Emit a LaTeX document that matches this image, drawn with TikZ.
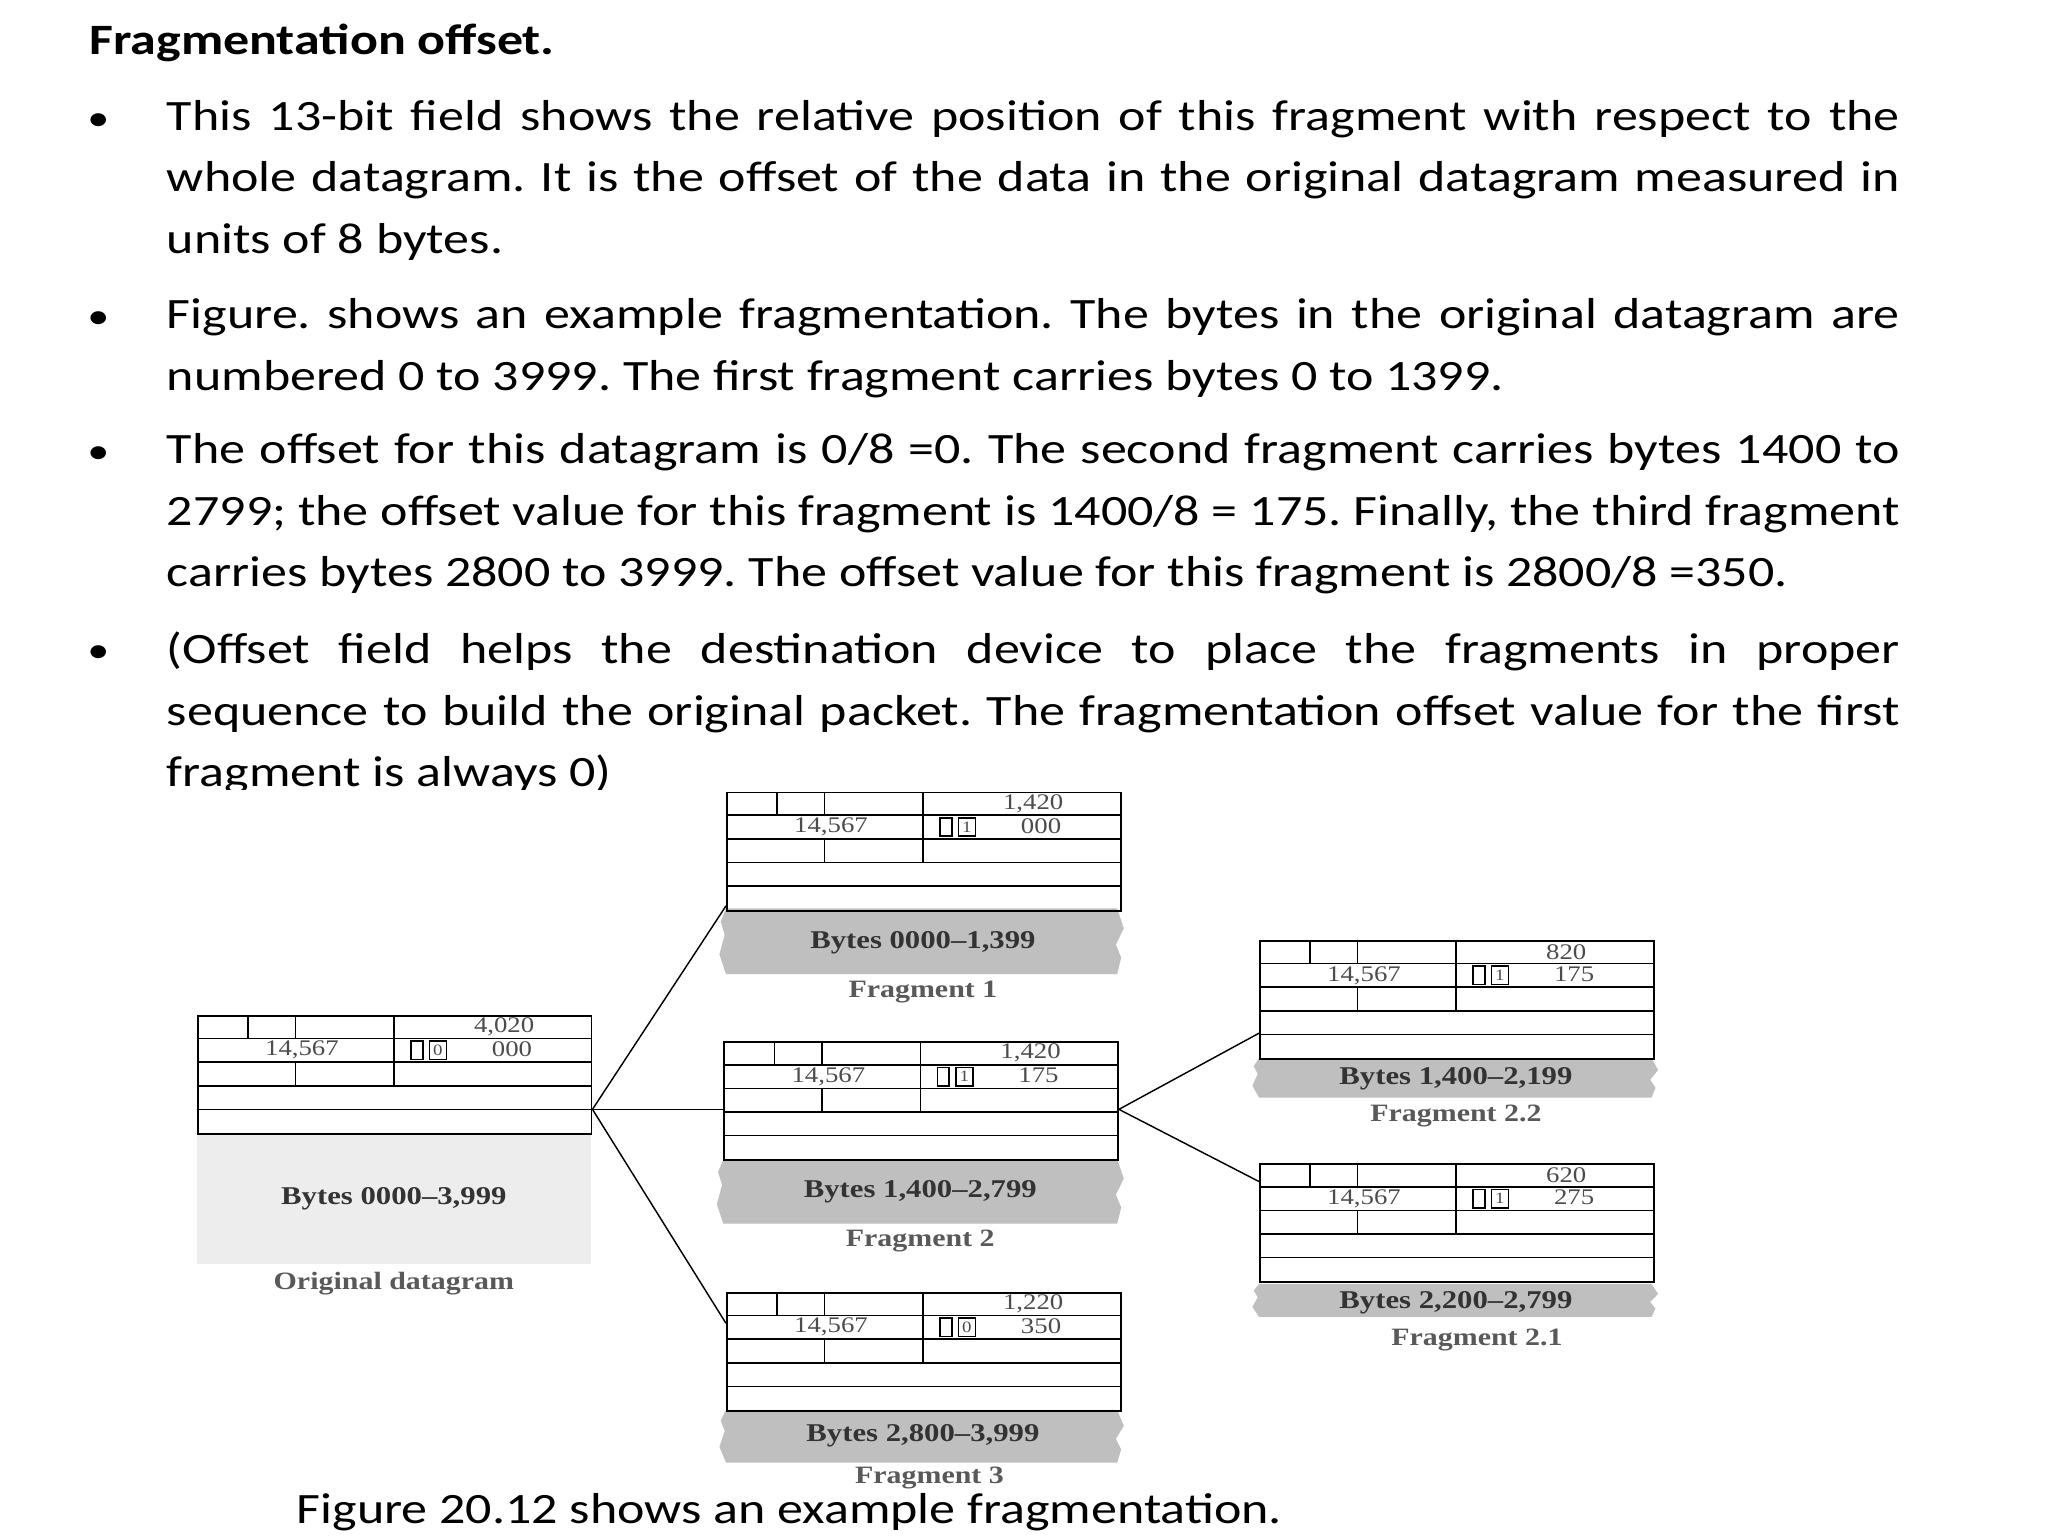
\documentclass[tikz,border=0pt]{standalone}
\usepackage{fontspec}
\setmainfont{Carlito}[FakeStretch=1.2]
\newfontfamily\dfont{Liberation Serif}[FakeStretch=1.2]
\usetikzlibrary{calc}
\frenchspacing
\tikzset{
  hbox/.style={draw,line width=1.3pt,anchor=north west,minimum width=300pt,minimum height=90pt,inner sep=0pt},
  hl/.style={line width=1.2pt},
  conn/.style={line width=1.1pt},
  dtxt/.style={font=\dfont\fontsize{17}{19}\selectfont,text=black!70,inner sep=0pt},
  btxt/.style={font=\dfont\bfseries\fontsize{19.5}{21}\selectfont,text=black!80},
  ltxt/.style={font=\dfont\bfseries\fontsize{19}{21}\selectfont,text=black!65},
}
\newcommand\hdr[6]{%
\node[hbox] (#1) at (#2,#3) {};
\begin{scope}[shift={(#2,#3)}]
\draw[hl] (0,18)--(300,18) (0,36)--(300,36) (0,54)--(300,54) (0,72)--(300,72);
\draw[hl] (39,0)--(39,18) (75,0)--(75,18) (75,36)--(75,54) (150,0)--(150,54);
\draw[hl] (163,20) rectangle (172,34) (177,20) rectangle (190,34);
\node[dtxt] at (234,9) {#4};
\node[dtxt] at (80,27) {14,567};
\node[dtxt,font=\dfont\fontsize{12}{12}\selectfont] at (183.5,27) {#5};
\node[dtxt] at (240,26) {#6};
\end{scope}}
\newcommand\band[5]{% x y w h fill
\fill[#5] (#1,#2) -- ++(#3,0) -- ++(5,#4*0.3) -- ++(-6,#4*0.25) -- ++(4,#4*0.2) -- ++(-3,#4*0.25)
  -- ++(-#3,0) -- ++(-5,-#4*0.3) -- ++(4,-#4*0.3) -- ++(-3,-#4*0.2) -- cycle;}
\begin{document}
\begin{tikzpicture}[x=1pt,y=-1pt]
\useasboundingbox (0,0) rectangle (1560,1170);
\fill[white] (0,0) rectangle (1560,1170);
% text
\node[anchor=west,font=\bfseries\fontsize{33}{40}\selectfont,inner sep=0pt] (title) at (68,33) {Fragmentation offset.};
\tikzset{para/.style={anchor=north west,text width=1320pt,align=justify,inner sep=0pt,font=\fontsize{33}{47}\selectfont}}
\tikzset{bul/.style={font=\fontsize{28}{40}\selectfont,inner sep=0pt}}
\node[para] (p1) at (127,76) {This 13-bit field shows the relative position of this fragment with respect to the whole datagram. It is the offset of the data in the original datagram measured in units of 8 bytes.};
\node[para] (p2) at (127,227) {Figure. shows an example fragmentation. The bytes in the original datagram are numbered 0 to 3999. The first fragment carries bytes 0 to 1399.};
\node[para] (p3) at (127,330) {The offset for this datagram is 0/8 =0. The second fragment carries bytes 1400 to 2799; the offset value for this fragment is 1400/8 = 175. Finally, the third fragment carries bytes 2800 to 3999. The offset value for this fragment is 2800/8 =350.};
\node[para] (p4) at (127,481) {(Offset field helps the destination device to place the fragments in proper\linebreak sequence to build the original packet. The fragmentation offset value for the first\linebreak fragment is always 0)};
\foreach \yy/\n in {91/b1,242/b2,345/b3,496/b4}{\node[bul] (\n) at (75,\yy+2) {•};}
% diagram
\fill[white] (120,602) rectangle (1290,1135);
\fill[black!7] (150,863) rectangle (450,963);
\node[btxt] (ot) at (300,913) {Bytes 0000–3,999};
\node[ltxt] (ol) at (300,978) {Original datagram};
\band{553}{692}{298}{50}{black!25}
\band{551}{883}{300}{49}{black!25}
\band{553}{1074}{298}{40}{black!25}
\band{959}{806}{299}{30}{black!25}
\band{959}{978}{299}{25}{black!25}
\hdr{orig}{150}{773}{4,020}{0}{000}
\hdr{fa}{553}{603}{1,420}{1}{000}
\hdr{fb}{551}{793}{1,420}{1}{175}
\hdr{fc}{553}{984}{1,220}{0}{350}
\hdr{gb}{959}{716}{820}{1}{175}
\hdr{ga}{959}{886}{620}{1}{275}
\node[btxt] at (703,718) {Bytes 0000–1,399};
\node[ltxt] at (703,756) {Fragment 1};
\node[btxt] at (701,908) {Bytes 1,400–2,799};
\node[ltxt] at (701,945) {Fragment 2};
\node[btxt] at (703,1094) {Bytes 2,800–3,999};
\node[ltxt] at (708,1126) {Fragment 3};
\node[btxt] at (1109,822) {Bytes 1,400–2,199};
\node[ltxt] at (1109,850) {Fragment 2.2};
\node[btxt] at (1109,992) {Bytes 2,200–2,799};
\node[ltxt] at (1125,1021) {Fragment 2.1};
\coordinate (origr) at ($(orig.north east)+(0,72)$);
\coordinate (fbr) at ($(fb.north east)+(0,52)$);
\draw[conn] (origr) -- ($(fa.north west)+(0,87)$);
\draw[conn] (origr) -- ($(fb.north west)+(0,52)$);
\draw[conn] (origr) -- ($(fc.north west)+(0,24)$);
\draw[conn] (fbr) -- ($(gb.north west)+(0,71)$);
\draw[conn] (fbr) -- ($(ga.north west)+(0,14)$);
\node[anchor=west,font=\fontsize{33}{40}\selectfont,inner sep=0pt] (cap) at (226,1152) {Figure 20.12 shows an example fragmentation.};
\end{tikzpicture}
\end{document}
